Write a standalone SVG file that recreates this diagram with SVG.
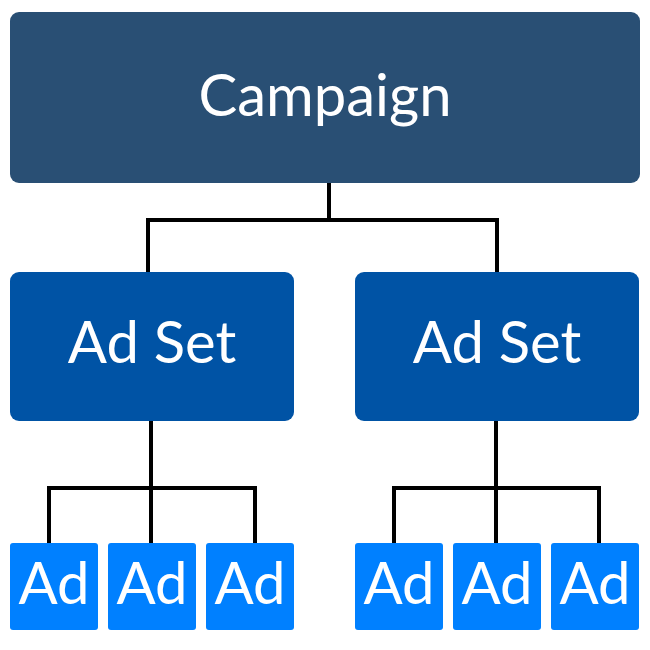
<svg xmlns="http://www.w3.org/2000/svg" width="650" height="650" viewBox="0 0 650 650">
<style>
.lbl{font-family:Lato,"Open Sans","Liberation Sans",sans-serif;fill:#fff;text-anchor:middle;font-size:58px}
.camp{fill:#294F74}
.set{fill:#0053A5}
.ad{fill:#0080FF}
.conn{fill:none;stroke:#000;stroke-width:4}
</style>
<rect width="650" height="650" fill="#fff"/>
<g id="connectors" class="conn">
<path d="M329,183 V220 M148,220 H497 M148,218 V272 M497,218 V272"/>
<path d="M151,421 V488 M49,488 H255 M49,486 V543 M151,488 V543 M255,486 V543"/>
<path d="M496,421 V488 M394,488 H599 M394,486 V543 M496,488 V543 M599,486 V543"/>
</g>
<g id="campaign"><rect class="camp" x="10" y="12" width="630" height="171" rx="9"/><text class="lbl" x="325" y="116">Campaign</text></g>
<g id="adset1"><rect class="set" x="10" y="272" width="284" height="149" rx="9"/><text class="lbl" x="152" y="363">Ad Set</text></g>
<g id="adset2"><rect class="set" x="355" y="272" width="284" height="149" rx="9"/><text class="lbl" x="497" y="363">Ad Set</text></g>
<g id="ad1"><rect class="ad" x="10" y="543" width="88" height="87" rx="3"/><text class="lbl" x="54" y="604">Ad</text></g>
<g id="ad2"><rect class="ad" x="108" y="543" width="88" height="87" rx="3"/><text class="lbl" x="152" y="604">Ad</text></g>
<g id="ad3"><rect class="ad" x="206" y="543" width="88" height="87" rx="3"/><text class="lbl" x="250" y="604">Ad</text></g>
<g id="ad4"><rect class="ad" x="355" y="543" width="88" height="87" rx="3"/><text class="lbl" x="399" y="604">Ad</text></g>
<g id="ad5"><rect class="ad" x="453" y="543" width="88" height="87" rx="3"/><text class="lbl" x="497" y="604">Ad</text></g>
<g id="ad6"><rect class="ad" x="551" y="543" width="88" height="87" rx="3"/><text class="lbl" x="595" y="604">Ad</text></g>
</svg>
